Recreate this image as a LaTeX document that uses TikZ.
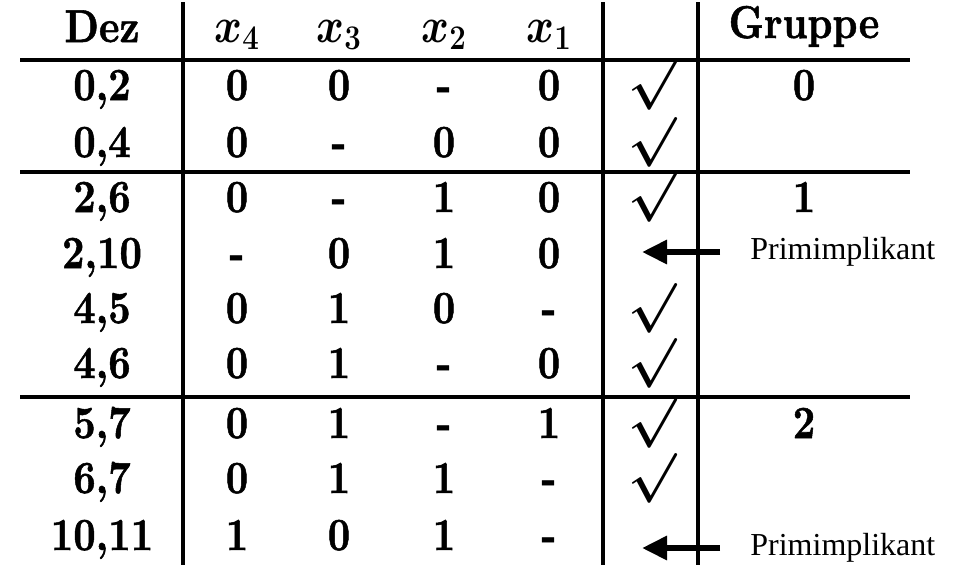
\documentclass[tikz,border=0pt]{standalone}
\usepackage{amsmath}
\usepackage{fontspec}
\setmainfont{lmroman10-regular.otf}[BoldFont=lmroman10-bold.otf,
    BoldFeatures={FakeBold=1.2}]
\newfontfamily\timesfont{Liberation Serif}
\usetikzlibrary{arrows.meta}

\begin{document}
\begin{tikzpicture}[x=0.5pt, y=-0.5pt,
        cell/.style={anchor=base, inner sep=0pt, xscale=0.85, transform shape,
            font=\fontsize{23}{28}\selectfont\bfseries\boldmath},
        tick/.style={inner sep=0pt, font=\fontsize{26}{30}\selectfont\boldmath},
        rule/.style={line width=2pt},
        pfeil/.style={line width=3pt, -{Triangle[length=12.5pt, width=11.5pt]}},
        hinweis/.style={anchor=west, inner xsep=15pt, inner ysep=0pt,
            font=\timesfont\fontsize{16}{19}\selectfont}]
    \useasboundingbox (0,0) rectangle (960,575);

    % Kopfzeile
    \node[cell] (dez)    at (102,42) {Dez};
    \node[cell] (x4)     at (237,42) {$x_4$};
    \node[cell] (x3)     at (339,42) {$x_3$};
    \node[cell] (x2)     at (444,42) {$x_2$};
    \node[cell] (x1)     at (549,42) {$x_1$};
    \node[cell] (gruppe) at (804,38) {Gruppe};

    % Zeilen: Grundlinie / Dez / x4 / x3 / x2 / x1 / Haken
    \foreach \y/\d/\a/\b/\c/\e/\k [count=\i] in {
            100/{0,2}/0/0/-/0/1,
            157/{0,4}/0/-/0/0/1,
            212/{2,6}/0/-/1/0/1,
            268/{2,10}/-/0/1/0/0,
            323/{4,5}/0/1/0/-/1,
            378/{4,6}/0/1/-/0/1,
            438/{5,7}/0/1/-/1/1,
            493/{6,7}/0/1/1/-/1,
            550/{10,11}/1/0/1/-/0} {
        \node[cell] (dez\i) at (102,\y) {\d};
        \node[cell] (xa\i)  at (237,\y) {\a};
        \node[cell] (xb\i)  at (339,\y) {\b};
        \node[cell] (xc\i)  at (444,\y) {\c};
        \node[cell] (xd\i)  at (549,\y) {\e};
        \ifnum\k=1
            \node[tick] (ok\i) at (652,\y-15) {$\surd$};
        \fi
    }

    \node[cell] (g0) at (804,100) {0};
    \node[cell] (g1) at (804,212) {1};
    \node[cell] (g2) at (804,438) {2};

    % Linien
    \foreach \y in {60,172,397}
        \draw[rule] (20,\y) -- (910,\y);
    \foreach \x in {183,603,698}
        \draw[rule] (\x,2) -- (\x,565);

    % Primimplikanten
    \node[hinweis] (pi1) at (720,252) {Primimplikant};
    \node[hinweis] (pi2) at (720,548) {Primimplikant};
    \coordinate (s1) at (642,252);
    \coordinate (s2) at (642,548);
    \draw[pfeil] (pi1.west) -- (s1);
    \draw[pfeil] (pi2.west) -- (s2);
\end{tikzpicture}
\end{document}
